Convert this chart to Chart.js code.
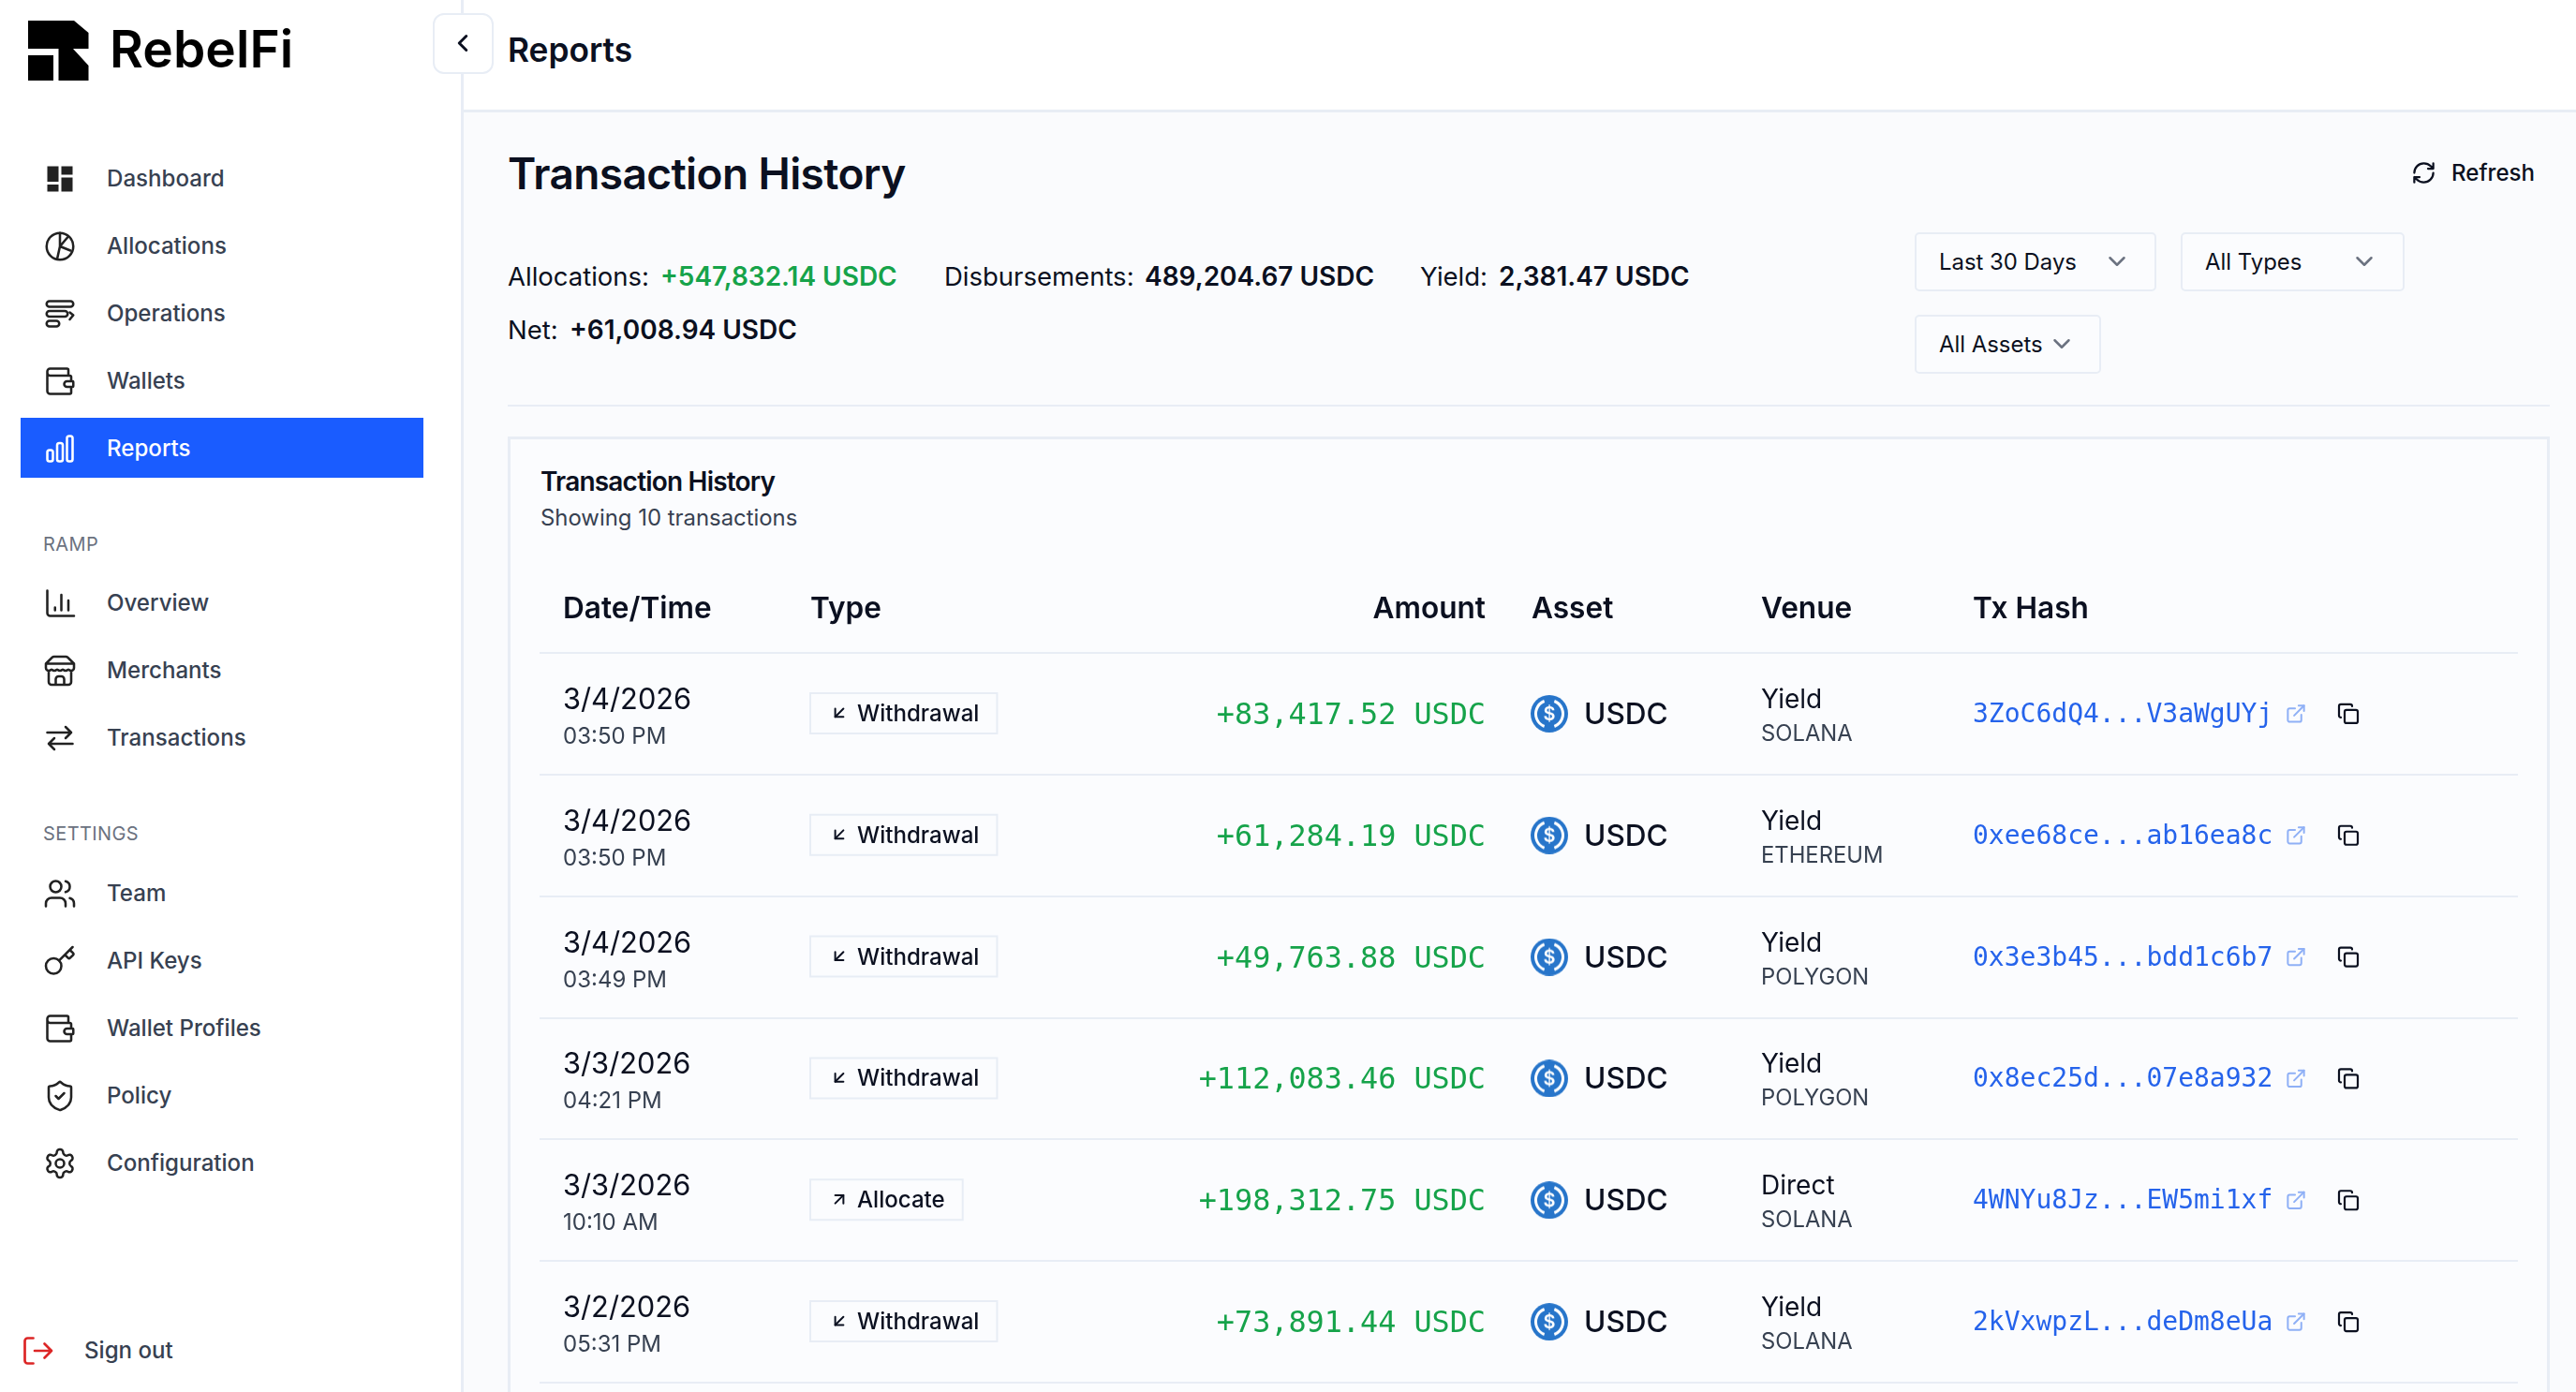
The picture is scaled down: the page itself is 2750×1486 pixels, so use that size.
<!DOCTYPE html>
<html>
<head>
<meta charset="utf-8">
<title>Reports</title>
<script src="https://cdn.jsdelivr.net/npm/chart.js@4/dist/chart.umd.min.js"></script>
<style>
    html, body { margin: 0; padding: 0; width: 2750px; height: 1486px; overflow: hidden; background: #fafbfd; font-family: Inter, sans-serif; }
    .t { position: absolute; white-space: pre; line-height: 1.2; }
    .box { position: absolute; box-sizing: border-box; }
    svg { position: absolute; fill: none; stroke-linecap: round; stroke-linejoin: round; }
    canvas { position: absolute; }
</style>
</head>
<body>
<div id="page"></div>
<canvas id="table" width="2112" height="886"></canvas>
<script>
    // table rows
    const dates = ['3/4/2026', '3/4/2026', '3/4/2026', '3/3/2026', '3/3/2026', '3/2/2026'];
    const times = ['03:50 PM', '03:50 PM', '03:49 PM', '04:21 PM', '10:10 AM', '05:31 PM'];
    const types = ['Withdrawal', 'Withdrawal', 'Withdrawal', 'Withdrawal', 'Allocate', 'Withdrawal'];
    const amounts = ['+83,417.52 USDC', '+61,284.19 USDC', '+49,763.88 USDC', '+112,083.46 USDC', '+198,312.75 USDC', '+73,891.44 USDC'];
    const assets = ['USDC', 'USDC', 'USDC', 'USDC', 'USDC', 'USDC'];
    const venues = ['Yield', 'Yield', 'Yield', 'Yield', 'Direct', 'Yield'];
    const networks = ['SOLANA', 'ETHEREUM', 'POLYGON', 'POLYGON', 'SOLANA', 'SOLANA'];
    const hashes = ['3ZoC6dQ4...V3aWgUYj', '0xee68ce...ab16ea8c', '0x3e3b45...bdd1c6b7', '0x8ec25d...07e8a932', '4WNYu8Jz...EW5mi1xf', '2kVxwpzL...deDm8eUa'];
    const columns = ['Date/Time', 'Type', 'Amount', 'Asset', 'Venue', 'Tx Hash'];

    const navMain = ['Dashboard', 'Allocations', 'Operations', 'Wallets', 'Reports'];
    const navRamp = ['Overview', 'Merchants', 'Transactions'];
    const navSettings = ['Team', 'API Keys', 'Wallet Profiles', 'Policy', 'Configuration'];

    const INK = '#0b1020';
    const NAV = '#374151';
    const LINE = '#e8edf5';
    const GREEN = '#16a34a';
    const BLUE = '#2563eb';

    const page = document.getElementById('page');

    const icons = {
        Dashboard: '<g fill="#222" stroke="none"><rect x="3" y="3" width="8" height="11"/><rect x="13" y="3" width="8" height="6"/><rect x="13" y="11" width="8" height="10"/><rect x="3" y="16" width="8" height="5"/></g>',
        Allocations: '<circle cx="12" cy="12" r="9.5"/><path d="M12 2.5V12l5.5-6.5M12 12l7.5 3M12 12l-2 9"/>',
        Operations: '<rect x="2.5" y="3" width="19" height="4" rx="2"/><rect x="2.5" y="10" width="15" height="4" rx="2"/><rect x="2.5" y="17" width="9" height="4" rx="2"/><path d="M19 11l2.5 2-2.5 3"/>',
        Wallets: '<path d="M18 7V4a1 1 0 0 0-1-1H5a2 2 0 0 0-2 2v14a2 2 0 0 0 2 2h14a1 1 0 0 0 1-1v-3M3 6a2 2 0 0 0 2 2h14a1 1 0 0 1 1 1v3M20 12h-3a2 2 0 0 0 0 4h4a.5.5 0 0 0 .5-.5v-3a.5.5 0 0 0-.5-.5z"/>',
        Reports: '<rect x="3" y="13" width="4" height="8" rx="1.5"/><rect x="10" y="8" width="4" height="13" rx="1.5"/><rect x="17" y="3" width="4" height="18" rx="1.5"/>',
        Overview: '<path d="M3 3v16a2 2 0 0 0 2 2h17M8.5 17v-2M13 17V6M18 17v-7"/>',
        Merchants: '<path d="m2 7 4.41-4.41A2 2 0 0 1 7.83 2h8.34a2 2 0 0 1 1.42.59L22 7M4 12v8a2 2 0 0 0 2 2h12a2 2 0 0 0 2-2v-8M15 22v-4a2 2 0 0 0-2-2h-2a2 2 0 0 0-2 2v4M2 7h20M22 7v3a2 2 0 0 1-2 2a2.7 2.7 0 0 1-1.59-.63.7.7 0 0 0-.82 0A2.7 2.7 0 0 1 16 12a2.7 2.7 0 0 1-1.59-.63.7.7 0 0 0-.82 0A2.7 2.7 0 0 1 12 12a2.7 2.7 0 0 1-1.59-.63.7.7 0 0 0-.82 0A2.7 2.7 0 0 1 8 12a2.7 2.7 0 0 1-1.59-.63.7.7 0 0 0-.82 0A2.7 2.7 0 0 1 4 12a2 2 0 0 1-2-2V7"/>',
        Transactions: '<path d="M3 8h17M16 4l4 4-4 4M21 16H4M8 12l-4 4 4 4"/>',
        Team: '<path d="M16 21v-2a4 4 0 0 0-4-4H6a4 4 0 0 0-4 4v2M22 21v-2a4 4 0 0 0-3-3.87M16 3.13a4 4 0 0 1 0 7.75"/><circle cx="9" cy="7" r="4"/>',
        'API Keys': '<path d="m15.5 7.5 2.3 2.3a1 1 0 0 0 1.4 0l2.1-2.1a1 1 0 0 0 0-1.4L19 4M21 2l-9.6 9.6"/><circle cx="7.5" cy="15.5" r="5.5"/>',
        'Wallet Profiles': '<path d="M18 7V4a1 1 0 0 0-1-1H5a2 2 0 0 0-2 2v14a2 2 0 0 0 2 2h14a1 1 0 0 0 1-1v-3M3 6a2 2 0 0 0 2 2h14a1 1 0 0 1 1 1v3M20 12h-3a2 2 0 0 0 0 4h4a.5.5 0 0 0 .5-.5v-3a.5.5 0 0 0-.5-.5z"/>',
        Policy: '<path d="M20 13c0 5-3.5 7.5-7.66 8.95a1 1 0 0 1-.67-.01C7.5 20.5 4 18 4 13V6a1 1 0 0 1 1-1c2 0 4.5-1.2 6.24-2.72a1.17 1.17 0 0 1 1.52 0C14.51 3.81 17 5 19 5a1 1 0 0 1 1 1zM9 12l2 2 4-4"/>',
        Configuration: '<path d="M12.22 2h-.44a2 2 0 0 0-2 2v.18a2 2 0 0 1-1 1.73l-.43.25a2 2 0 0 1-2 0l-.15-.08a2 2 0 0 0-2.73.73l-.22.38a2 2 0 0 0 .73 2.73l.15.1a2 2 0 0 1 1 1.72v.51a2 2 0 0 1-1 1.74l-.15.09a2 2 0 0 0-.73 2.73l.22.38a2 2 0 0 0 2.73.73l.15-.08a2 2 0 0 1 2 0l.43.25a2 2 0 0 1 1 1.73V20a2 2 0 0 0 2 2h.44a2 2 0 0 0 2-2v-.18a2 2 0 0 1 1-1.73l.43-.25a2 2 0 0 1 2 0l.15.08a2 2 0 0 0 2.73-.73l.22-.39a2 2 0 0 0-.73-2.73l-.15-.08a2 2 0 0 1-1-1.74v-.5a2 2 0 0 1 1-1.74l.15-.09a2 2 0 0 0 .73-2.73l-.22-.38a2 2 0 0 0-2.73-.73l-.15.08a2 2 0 0 1-2 0l-.43-.25a2 2 0 0 1-1-1.73V4a2 2 0 0 0-2-2z"/><circle cx="12" cy="12" r="3"/>',
        signout: '<path d="M9 3H5a2 2 0 0 0-2 2v14a2 2 0 0 0 2 2h4M10 12h12M17 7l5 5-5 5"/>',
        refresh: '<path d="M3 12a9 9 0 0 1 9-9 9.75 9.75 0 0 1 6.74 2.74L21 8M21 3v5h-5M21 12a9 9 0 0 1-9 9 9.75 9.75 0 0 1-6.74-2.74L3 16M8 16H3v5"/>',
        chevron: '<path d="m6 9 6 6 6-6"/>',
        back: '<path d="m15 18-6-6 6-6"/>'
    };

    // baseline positioned text, 0.964em is Inter's ascent inside a 1.2 line box
    function text(str, x, base, size, weight, color, extra) {
        const el = document.createElement('div');
        el.className = 't';
        el.textContent = str;
        el.style.cssText = `left:${x}px;top:${base - 0.964 * size}px;font-size:${size}px;font-weight:${weight};color:${color};${extra || ''}`;
        page.appendChild(el);
        return el;
    }

    function box(x, y, w, h, css) {
        const el = document.createElement('div');
        el.className = 'box';
        el.style.cssText = `left:${x}px;top:${y}px;width:${w}px;height:${h}px;${css}`;
        page.appendChild(el);
        return el;
    }

    function icon(name, cx, cy, size, color, sw) {
        const wrap = document.createElement('div');
        wrap.innerHTML = `<svg viewBox="0 0 24 24" width="${size}" height="${size}" style="left:${cx - size / 2}px;top:${cy - size / 2}px;stroke:${color};stroke-width:${sw}">${icons[name]}</svg>`;
        page.appendChild(wrap.firstChild);
    }

    // page chrome
    box(0, 0, 2750, 120, 'background:#fff;border-bottom:3px solid ' + LINE);
    box(0, 0, 492, 1486, 'background:#fff');
    box(492, 0, 3, 1486, 'background:' + LINE);

    const logo = document.createElement('div');
    logo.innerHTML = '<svg viewBox="0 0 120 100" width="120" height="100" style="left:0;top:0"><path fill="#000" d="M30 22H79L94.5 35V52H78L94.5 70V86H62.5V52H30Z"/><rect fill="#000" x="30" y="59" width="27" height="27"/></svg>';
    page.appendChild(logo.firstChild);
    text('RebelFi', 117, 72, 55, 600, '#000', 'letter-spacing:.1px');

    box(462, 14, 65, 65, 'background:#fff;border:2px solid ' + LINE + ';border-radius:12px');
    icon('back', 494, 46, 30, INK, 2.4);
    text('Reports', 542, 67, 35.3, 600, INK);

    function navItem(name, cy, active) {
        icon(name, 64, cy, 36, active ? '#fff' : '#222', 1.7);
        text(name, 114, cy + 9, 24.1, 500, active ? '#fff' : NAV);
    }
    box(22, 446, 430, 64, 'background:#1a5cff');
    const mainY = [191, 263, 335, 407, 479];
    navMain.forEach((n, i) => navItem(n, mainY[i], n === 'Reports'));
    text('RAMP', 46, 588, 20, 400, '#6b7280', 'letter-spacing:.4px');
    navRamp.forEach((n, i) => navItem(n, 644 + i * 72));
    text('SETTINGS', 46, 897, 20, 400, '#6b7280', 'letter-spacing:.4px');
    navSettings.forEach((n, i) => navItem(n, 954 + i * 72));
    icon('signout', 40, 1442, 36, '#dc2626', 1.8);
    text('Sign out', 90, 1451, 24.1, 500, NAV);

    // page heading and totals
    text('Transaction History', 542, 202, 46, 600, INK, 'letter-spacing:-.6px');
    icon('refresh', 2587, 184, 27, INK, 2);
    text('Refresh', 2617, 194, 24.1, 500, INK);

    text('Allocations:', 542, 306, 27.5, 400, INK);
    text('+547,832.14 USDC', 705, 306, 28, 600, GREEN);
    text('Disbursements:', 1008, 306, 27.5, 400, INK);
    text('489,204.67 USDC', 1222, 306, 28, 600, INK);
    text('Yield:', 1516, 306, 27.5, 400, INK);
    text('2,381.47 USDC', 1600, 306, 28, 600, INK);
    text('Net:', 542, 363, 27.5, 400, INK);
    text('+61,008.94 USDC', 608, 363, 28, 600, INK);

    function dropdown(label, x, y, w, chevX) {
        box(x, y, w, 63, 'background:#fbfcfe;border:2px solid ' + LINE + ';border-radius:5px');
        text(label, x + 26, y + 41, 23.9, 400, INK);
        icon('chevron', chevX, y + 31, 30, '#6b7280', 2);
    }
    dropdown('Last 30 Days', 2044, 248, 258, 2260);
    dropdown('All Types', 2328, 248, 239, 2524);
    dropdown('All Assets', 2044, 336, 199, 2201);

    box(542, 432, 2180, 2, 'background:' + LINE);
    box(542, 466, 2180, 1100, 'background:#fbfcfe;border:3px solid ' + LINE);
    text('Transaction History', 577, 525, 28, 600, INK, 'letter-spacing:-.8px');
    text('Showing 10 transactions', 577, 562, 23.9, 400, NAV);

    // x axis units are canvas pixels, so the column edges read straight off the screenshot
    const columnX = { date: 25, type: 289, amount: 1010, coin: 1078, assetHead: 1059, asset: 1115, venue: 1304, hash: 1530, open: 1875, copy: 1931 };
    const ICON_PATHS = {
        in: ['M17 7 7 17', 'M17 17H7V7'],
        out: ['M7 17 17 7', 'M7 7h10v10'],
        open: ['M15 3h6v6', 'M10 14 21 3', 'M18 13v6a2 2 0 0 1-2 2H5a2 2 0 0 1-2-2V8a2 2 0 0 1 2-2h6'],
        copy: ['M10 8h10a2 2 0 0 1 2 2v10a2 2 0 0 1-2 2H10a2 2 0 0 1-2-2V10a2 2 0 0 1 2-2z', 'M4 16a2 2 0 0 1-2-2V4a2 2 0 0 1 2-2h10a2 2 0 0 1 2 2']
    };

    function drawIcon(ctx, paths, cx, cy, size, color, lw) {
        ctx.save();
        ctx.translate(cx - size / 2, cy - size / 2);
        ctx.scale(size / 24, size / 24);
        ctx.strokeStyle = color;
        ctx.lineWidth = lw * 24 / size;
        ctx.lineCap = 'round';
        ctx.lineJoin = 'round';
        paths.forEach(p => ctx.stroke(new Path2D(p)));
        ctx.restore();
    }

    function put(ctx, str, x, y, font, color, align) {
        ctx.font = font;
        ctx.fillStyle = color;
        ctx.textAlign = align || 'left';
        ctx.textBaseline = 'alphabetic';
        ctx.fillText(str, x, y);
    }

    // USDC coin used as the point image of the asset column
    function makeCoin() {
        const c = document.createElement('canvas');
        c.width = 40;
        c.height = 40;
        const g = c.getContext('2d');
        g.fillStyle = '#2775ca';
        g.beginPath();
        g.arc(20, 20, 20, 0, Math.PI * 2);
        g.fill();
        g.strokeStyle = '#fff';
        g.lineWidth = 3;
        g.beginPath();
        g.arc(20, 20, 14.5, Math.PI * 0.62, Math.PI * 1.38);
        g.stroke();
        g.beginPath();
        g.arc(20, 20, 14.5, -Math.PI * 0.38, Math.PI * 0.38);
        g.stroke();
        g.fillStyle = '#fff';
        g.font = '600 20px Inter';
        g.textAlign = 'center';
        g.textBaseline = 'middle';
        g.fillText('$', 20, 21);
        return c;
    }

    const tableCells = {
        id: 'tableCells',
        afterDatasetsDraw(chart) {
            const ctx = chart.ctx;
            const x = chart.scales.x;
            const y = chart.scales.y;
            const px = v => x.getPixelForValue(v);

            ctx.save();
            const headFont = '600 31.6px Inter';
            const headX = [columnX.date, columnX.type, columnX.amount, columnX.assetHead, columnX.venue, columnX.hash];
            columns.forEach((c, i) => put(ctx, c, px(headX[i]), 60, headFont, INK, c === 'Amount' ? 'right' : 'left'));

            dates.forEach((d, i) => {
                const cy = y.getPixelForValue(i);

                put(ctx, d, px(columnX.date), cy - 5, '400 30.8px Inter', INK);
                put(ctx, times[i], px(columnX.date), cy + 32, '400 24px Inter', NAV);

                // type badge
                const label = types[i];
                ctx.font = '500 24.1px Inter';
                const w = ctx.measureText(label).width + 50 + 19;
                ctx.strokeStyle = LINE;
                ctx.lineWidth = 2;
                ctx.fillStyle = '#fbfcfe';
                ctx.beginPath();
                ctx.rect(px(columnX.type), cy - 22, w, 43);
                ctx.fill();
                ctx.stroke();
                drawIcon(ctx, label === 'Allocate' ? ICON_PATHS.out : ICON_PATHS.in, px(columnX.type) + 31, cy - 1, 21, INK, 2);
                put(ctx, label, px(columnX.type) + 50, cy + 8, '500 24.1px Inter', INK);

                put(ctx, amounts[i], px(columnX.amount), cy + 11, '31.8px "DejaVu Sans Mono"', GREEN, 'right');
                put(ctx, assets[i], px(columnX.asset), cy + 11, '500 31.6px Inter', INK);

                put(ctx, venues[i], px(columnX.venue), cy - 6, '400 28px Inter', INK);
                put(ctx, networks[i], px(columnX.venue), cy + 29, '400 23.8px Inter', NAV);

                put(ctx, hashes[i], px(columnX.hash), cy + 9, '28px "DejaVu Sans Mono"', BLUE);
                drawIcon(ctx, ICON_PATHS.open, px(columnX.open), cy, 23, '#8fb0f6', 2);
                drawIcon(ctx, ICON_PATHS.copy, px(columnX.copy), cy, 24, INK, 2.2);
            });
            ctx.restore();
        }
    };

    const canvas = document.getElementById('table');
    canvas.style.left = '576px';
    canvas.style.top = '600px';

    new Chart(canvas, {
        type: 'scatter',
        data: {
            datasets: [{
                label: 'Asset',
                data: assets.map((a, i) => ({ x: columnX.coin, y: dates[i] })),
                pointStyle: makeCoin(),
                pointRadius: 20
            }]
        },
        options: {
            responsive: false,
            animation: false,
            devicePixelRatio: 1,
            layout: { autoPadding: false, padding: { top: 97, bottom: 10 } },
            plugins: { legend: { display: false }, tooltip: { enabled: false } },
            scales: {
                x: { type: 'linear', min: 0, max: 2112, display: false },
                y: {
                    type: 'category',
                    labels: dates,
                    offset: true,
                    grid: { offset: true, color: LINE, lineWidth: 2, drawTicks: false },
                    border: { display: false },
                    ticks: { display: false }
                }
            }
        },
        plugins: [tableCells]
    });
</script>
</body>
</html>
